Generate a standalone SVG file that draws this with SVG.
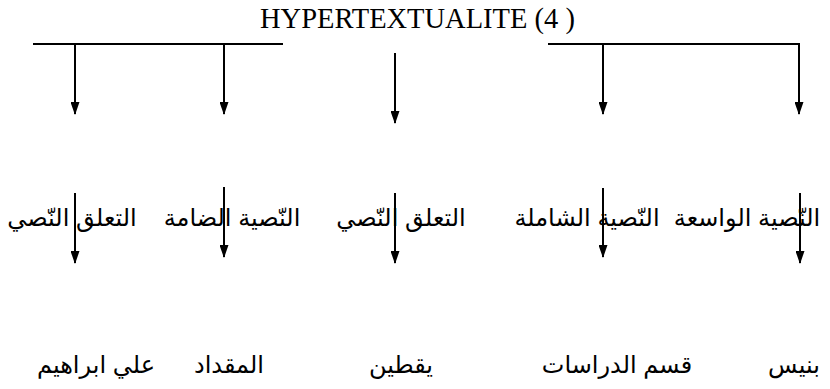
<svg xmlns="http://www.w3.org/2000/svg" width="830" height="389" viewBox="0 0 830 389">
<style>
.ln{stroke:#000;stroke-width:2;fill:none}
.ar{stroke:#000;stroke-width:2;fill:none;marker-end:url(#ah)}
.t{font-family:"Liberation Serif","Times New Roman",serif;font-size:28.5px;fill:#000}
.a{font-family:"Liberation Sans","DejaVu Sans",Arial,sans-serif;font-size:24px;fill:#000;text-anchor:middle}
</style>
<defs>
<marker id="ah" viewBox="0 0 13 9" refX="12" refY="4.5" markerWidth="13" markerHeight="9" markerUnits="userSpaceOnUse" orient="auto">
<path d="M0,0 L13,4.5 L0,9 Z" fill="#000"/>
</marker>
</defs>
<g id="title"><text class="t" x="260" y="28">HYPERTEXTUALITE (4 )</text></g>
<g id="connectors">
<line class="ln" x1="33" y1="44" x2="283" y2="44"/>
<line class="ln" x1="548" y1="44" x2="800" y2="44"/>
<line class="ar" x1="75" y1="44" x2="75" y2="114"/>
<line class="ar" x1="224" y1="44" x2="224" y2="114"/>
<line class="ar" x1="395" y1="53" x2="395" y2="123"/>
<line class="ar" x1="603" y1="44" x2="603" y2="114"/>
<line class="ar" x1="799" y1="43" x2="799" y2="114"/>
<line class="ar" x1="75" y1="193" x2="75" y2="263"/>
<line class="ar" x1="224" y1="187" x2="224" y2="257"/>
<line class="ar" x1="395" y1="193" x2="395" y2="263"/>
<line class="ar" x1="603" y1="188" x2="603" y2="257"/>
<line class="ar" x1="800" y1="193" x2="800" y2="263"/>
</g>
<g id="n1"><text class="a" x="72" y="226">التعلق النّصي</text></g>
<g id="n2"><text class="a" x="232" y="226">النّصية الضامة</text></g>
<g id="n3"><text class="a" x="401" y="226">التعلق النّصي</text></g>
<g id="n4"><text class="a" x="587" y="226">النّصية الشاملة</text></g>
<g id="n5"><text class="a" x="747" y="226">النّصية الواسعة</text></g>
<g id="m1"><text class="a" x="96" y="373">علي ابراهيم</text></g>
<g id="m2"><text class="a" x="229" y="373">المقداد</text></g>
<g id="m3"><text class="a" x="401" y="373">يقطين</text></g>
<g id="m4"><text class="a" x="617" y="373">قسم الدراسات</text></g>
<g id="m5"><text class="a" x="794" y="373">بنيس</text></g>
</svg>
